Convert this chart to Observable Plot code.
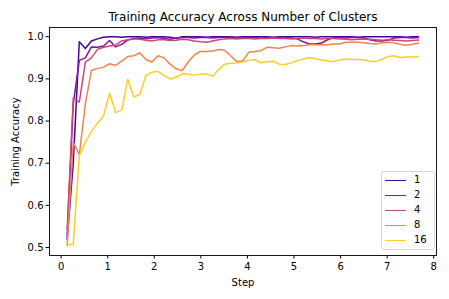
<!DOCTYPE html>
<html>
<head>
<meta charset="utf-8">
<script src="https://cdn.jsdelivr.net/npm/d3@7"></script>
<script src="https://cdn.jsdelivr.net/npm/@observablehq/plot@0.6"></script>
<style>
  html, body { margin: 0; padding: 0; background: #fff; }
  #wrap { position: relative; width: 449px; height: 299px; font-family: "DejaVu Sans", sans-serif; }
  #legend { position: absolute; left: 381px; top: 171px; width: 52px; height: 77px;
    border: 1px solid #d6d6d6; border-radius: 3px; background: rgba(255,255,255,0.85); }
  .row { position: absolute; left: 0; height: 14px; display: flex; align-items: center; }
  .sw { width: 21px; height: 0; border-top: 1.5px solid; margin-left: 3px; }
  .lb { margin-left: 8px; font-size: 10px; color: #000; line-height: 14px; }
</style>
</head>
<body>
<div id="wrap"></div>
<script>
const steps = [0.13,0.26,0.39,0.52,0.65,0.78,0.91,1.04,1.17,1.30,1.43,1.56,1.69,1.82,1.95,2.08,2.21,2.34,2.47,2.60,2.73,2.86,2.99,3.12,3.25,3.38,3.51,3.64,3.77,3.90,4.03,4.16,4.29,4.42,4.55,4.68,4.81,4.94,5.07,5.20,5.33,5.46,5.59,5.72,5.85,5.98,6.11,6.24,6.37,6.50,6.63,6.76,6.89,7.02,7.15,7.28,7.41,7.54,7.67];

const acc1 = [0.52,0.70,0.988,0.972,0.990,0.995,0.999,1.000,1.000,0.999,
  1.000,1.000,1.000,0.999,1.000,1.000,1.000,0.999,0.996,1.000,
  1.000,1.000,1.000,0.999,1.000,1.000,1.000,1.000,0.999,1.000,
  1.000,1.000,1.000,1.000,0.999,1.000,1.000,1.000,1.000,1.000,
  1.000,0.999,1.000,1.000,1.000,1.000,1.000,1.000,0.999,1.000,
  1.000,1.000,1.000,1.000,1.000,1.000,0.999,1.000,1.000];
const acc2 = [0.53,0.84,0.944,0.950,0.976,0.975,0.978,0.991,0.976,0.982,
  0.992,0.996,0.997,0.995,0.997,0.998,0.996,0.994,0.997,0.998,
  0.998,0.997,0.998,0.998,0.997,0.998,0.998,0.998,0.997,0.998,
  0.998,0.998,0.997,0.998,0.998,0.998,0.998,0.997,0.995,0.988,
  0.983,0.983,0.985,0.993,0.998,0.998,0.997,0.998,0.998,0.997,
  0.993,0.990,0.990,0.992,0.997,0.998,0.998,0.997,0.998];
const acc4 = [0.545,0.855,0.845,0.940,0.950,0.970,0.975,0.978,0.980,0.990,
  0.993,0.995,0.994,0.992,0.990,0.993,0.993,0.991,0.992,0.994,
  0.993,0.990,0.988,0.987,0.990,0.993,0.995,0.996,0.995,0.996,
  0.996,0.995,0.996,0.996,0.997,0.996,0.996,0.995,0.996,0.997,
  0.996,0.996,0.995,0.996,0.996,0.995,0.994,0.993,0.994,0.995,
  0.994,0.993,0.992,0.993,0.992,0.991,0.990,0.991,0.992];
const acc8 = [0.505,0.750,0.720,0.840,0.920,0.925,0.928,0.936,0.932,0.942,
  0.953,0.955,0.962,0.946,0.940,0.955,0.950,0.935,0.924,0.920,
  0.940,0.957,0.965,0.965,0.966,0.970,0.968,0.955,0.941,0.943,
  0.963,0.965,0.967,0.975,0.974,0.973,0.976,0.979,0.978,0.979,
  0.981,0.981,0.981,0.981,0.983,0.983,0.987,0.987,0.987,0.986,
  0.984,0.983,0.986,0.987,0.986,0.982,0.980,0.982,0.985];
const acc16 = [0.507,0.507,0.718,0.750,0.775,0.795,0.812,0.866,0.820,0.826,
  0.899,0.857,0.863,0.908,0.916,0.918,0.908,0.900,0.904,0.912,
  0.911,0.909,0.911,0.912,0.906,0.922,0.935,0.937,0.938,0.940,
  0.944,0.946,0.938,0.941,0.942,0.935,0.934,0.938,0.943,0.947,
  0.950,0.948,0.945,0.943,0.941,0.945,0.947,0.946,0.946,0.945,
  0.942,0.941,0.946,0.953,0.955,0.951,0.952,0.952,0.953];

const seriesNames = ["1", "2", "4", "8", "16"];
const seriesValues = [acc1, acc2, acc4, acc8, acc16];
const seriesColors = ["#41049d", "#8f0da4", "#cc4778", "#f2844b", "#fcce25"];
const xTicks = [0, 1, 2, 3, 4, 5, 6, 7, 8];
const yTicks = [0.5, 0.6, 0.7, 0.8, 0.9, 1.0];

const rows = [];
seriesNames.forEach((name, k) => {
  seriesValues[k].forEach((v, i) => rows.push({series: name, step: steps[i], acc: v}));
});

const font = "DejaVu Sans, sans-serif";

const lineMarks = seriesNames.map(name =>
  Plot.line(rows.filter(d => d.series === name), {
    x: "step", y: "acc", stroke: "series", strokeWidth: 1.5, strokeLinejoin: "round", strokeLinecap: "square"
  })
);

const chart = Plot.plot({
  width: 449,
  height: 299,
  marginLeft: 49,
  marginRight: 13,
  marginTop: 27,
  marginBottom: 44,
  style: {fontFamily: font, fontSize: "10px", background: "white", color: "black"},
  x: {domain: [-0.25, 8.06]},
  y: {domain: [0.481, 1.022]},
  color: {domain: seriesNames, range: seriesColors},
  marks: [
    ...lineMarks,
    Plot.frame({stroke: "black", strokeWidth: 0.9}),
    Plot.axisX({ticks: xTicks, tickSize: 3.5, tickPadding: 3.5, tickFormat: d3.format("d"),
      label: "Step", labelAnchor: "center", labelOffset: 30, labelArrow: "none", fontSize: 10}),
    Plot.axisY({ticks: yTicks, tickSize: 3.5, tickPadding: 2.5, tickFormat: d3.format(".1f"),
      label: "Training Accuracy", labelAnchor: "center", labelOffset: 38, labelArrow: "none", fontSize: 10}),
    Plot.text(["Training Accuracy Across Number of Clusters"], {
      frameAnchor: "top", dy: -7, lineAnchor: "bottom", fontSize: 12, fill: "black", text: d => d
    })
  ]
});

const wrap = document.getElementById("wrap");
wrap.appendChild(chart);

const legend = document.createElement("div");
legend.id = "legend";
seriesNames.forEach((name, k) => {
  const row = document.createElement("div");
  row.className = "row";
  row.style.top = (1 + 15 * k) + "px";
  const sw = document.createElement("div");
  sw.className = "sw";
  sw.style.borderTopColor = seriesColors[k];
  const lb = document.createElement("span");
  lb.className = "lb";
  lb.textContent = name;
  row.appendChild(sw);
  row.appendChild(lb);
  legend.appendChild(row);
});
wrap.appendChild(legend);
</script>
</body>
</html>
